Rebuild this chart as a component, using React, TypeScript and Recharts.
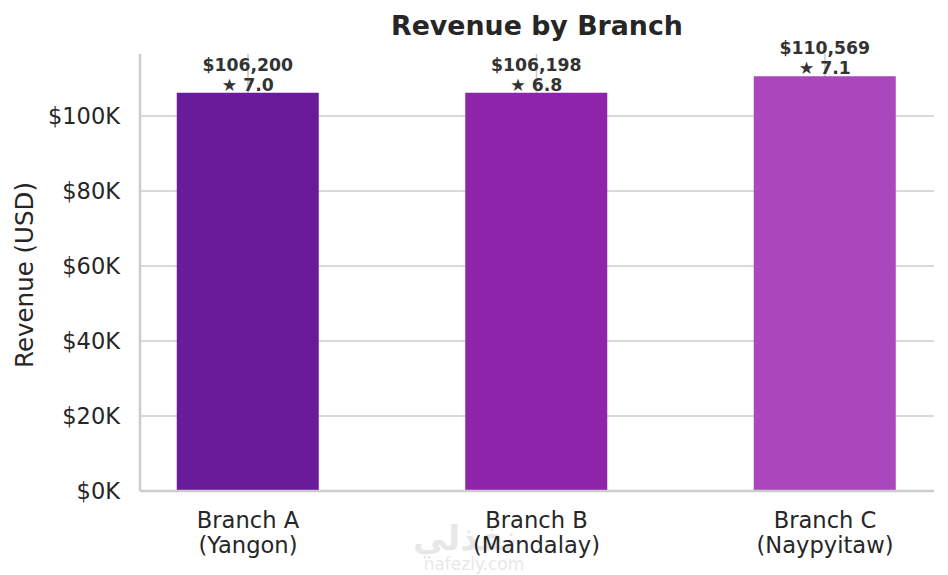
import React from "react";
import { BarChart, Bar, XAxis, YAxis, CartesianGrid, Cell, LabelList, Customized } from "recharts";

const categories = ["Branch A", "Branch B", "Branch C"];
const cities = ["Yangon", "Mandalay", "Naypyitaw"];
const revenue = [106200, 106198, 110569];
const ratings = [7.0, 6.8, 7.1];
const barColors = ["#6a1b9a", "#8e24aa", "#ab47bc"];
const yTicks = [0, 20000, 40000, 60000, 80000, 100000];
const xTicks = [0, 1, 2];
const Y_MAX = 116530;
const X_MIN = -0.3744;
const X_MAX = 2.3778;

const data = categories.map((c, i) => ({
  idx: i,
  name: c,
  city: cities[i],
  revenue: revenue[i],
  labelText: `${revenue[i]}|${ratings[i]}`,
}));

const FONT = "'DejaVu Sans', sans-serif";
const TEXT = "#262626";

const XTick = (props: any) => {
  const { x, y, payload } = props;
  const i = payload.value;
  return (
    <text x={x} textAnchor="middle" fontFamily={FONT} fontSize={22.6} fill={TEXT}>
      <tspan x={x} y={y + 37}>{categories[i]}</tspan>
      <tspan x={x} y={y + 62}>({cities[i]})</tspan>
    </text>
  );
};

const BarLabel = (props: any) => {
  const { x, y, width, value } = props;
  const [rev, rat] = String(value).split("|");
  const cx = Number(x) + Number(width) / 2;
  const top = Number(y);
  return (
    <text textAnchor="middle" fontFamily={FONT} fontSize={17.3} fontWeight="bold" fill="#333333">
      <tspan x={cx} y={top - 22}>${Number(rev).toLocaleString("en-US")}</tspan>
      <tspan x={cx} y={top - 2}>★ {Number(rat).toFixed(1)}</tspan>
    </text>
  );
};

const Extras = () => (
  <g>
    <text x={537} y={35} textAnchor="middle" fontFamily={FONT} fontSize={26.8} fontWeight="bold" fill={TEXT}>
      Revenue by Branch
    </text>
    <text
      x={0}
      y={0}
      transform="translate(33, 275) rotate(-90)"
      textAnchor="middle"
      fontFamily={FONT}
      fontSize={24.5}
      fill={TEXT}
    >
      Revenue (USD)
    </text>
    <g opacity={0.35}>
      <text x={465} y={550} textAnchor="middle" fontFamily={FONT} fontSize={34} fontWeight="bold" fill="#bdbdbd">
        نفذلي
      </text>
      <text x={474} y={570} textAnchor="middle" fontFamily={FONT} fontSize={17} fill="#bdbdbd">
        nafezly.com
      </text>
    </g>
  </g>
);

const hGen = (args: any) => {
  const o = args && args.offset ? args.offset : { top: 54, height: 437 };
  return yTicks.map((t) => o.top + o.height * (1 - t / Y_MAX));
};
const vGen = (args: any) => {
  const o = args && args.offset ? args.offset : { left: 140, width: 794 };
  return xTicks.map((t) => o.left + (o.width * (t - X_MIN)) / (X_MAX - X_MIN));
};

export default function App() {
  return (
    <div style={{ position: "absolute", left: 0, top: 0, background: "#fff" }}>
      <BarChart
        width={948}
        height={575}
        data={data}
        margin={{ top: 54, right: 14, left: 0, bottom: 0 }}
      >
        <CartesianGrid
          stroke="#cccccc"
          strokeWidth={1.6}
          vertical={true}
          horizontal={true}
          horizontalCoordinatesGenerator={hGen}
          verticalCoordinatesGenerator={vGen}
        />
        <XAxis
          type="number"
          dataKey="idx"
          domain={[X_MIN, X_MAX]}
          ticks={xTicks}
          allowDataOverflow
          height={84}
          tickLine={false}
          tickSize={0}
          tickMargin={0}
          axisLine={{ stroke: "#cccccc", strokeWidth: 2.5 }}
          tick={<XTick />}
          interval={0}
        />
        <YAxis
          type="number"
          domain={[0, Y_MAX]}
          ticks={yTicks}
          allowDataOverflow
          width={140}
          tickLine={false}
          tickSize={0}
          tickMargin={20}
          axisLine={{ stroke: "#cccccc", strokeWidth: 2.5 }}
          tickFormatter={(v: number) => `$${v / 1000}K`}
          tick={{ fontFamily: FONT, fontSize: 22.5, fill: TEXT }}
        />
        <Bar dataKey="revenue" barSize={142} isAnimationActive={false}>
          {data.map((d, i) => (
            <Cell key={d.name} fill={barColors[i]} />
          ))}
          <LabelList dataKey="labelText" content={<BarLabel />} />
        </Bar>
        <Customized component={Extras} />
      </BarChart>
    </div>
  );
}
